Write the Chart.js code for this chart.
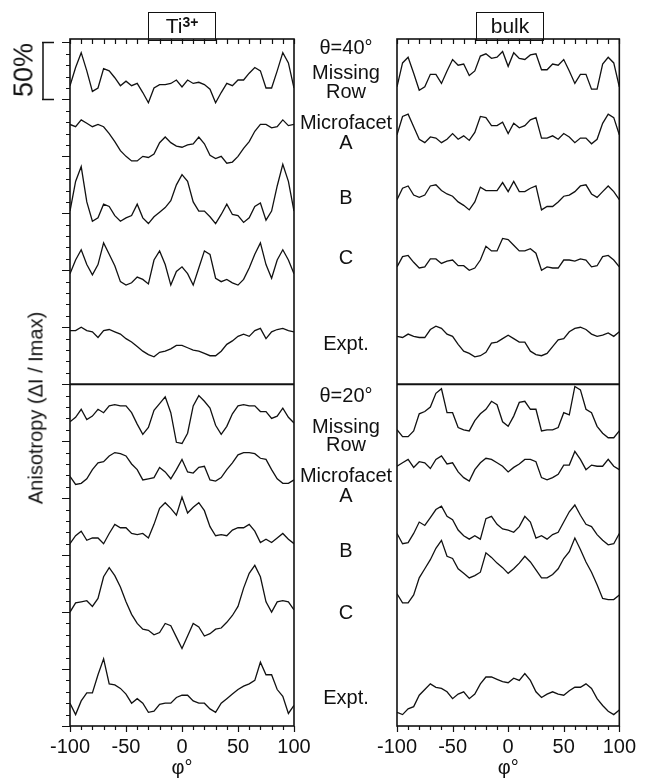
<!DOCTYPE html>
<html><head><meta charset="utf-8">
<script src="https://cdn.jsdelivr.net/npm/chart.js@4.4.1/dist/chart.umd.min.js"></script>
<style>
html,body{margin:0;padding:0;background:#fff;}
#wrap{position:relative;width:645px;height:780px;overflow:hidden;font-family:"Liberation Sans",Arial,sans-serif;color:#111;}
canvas{position:absolute;left:0;top:0;}
.lbl{position:absolute;font-size:20px;line-height:20px;white-space:nowrap;transform:translate(-50%,-50%);}
.box{position:absolute;border:1.5px solid #111;box-sizing:border-box;text-align:center;font-size:21px;line-height:25px;}
.rot{position:absolute;white-space:nowrap;transform:translate(-50%,-50%) rotate(-90deg);}
</style></head>
<body><div id="wrap">
<canvas id="cL" width="645" height="780"></canvas>
<canvas id="cR" width="645" height="780"></canvas>

<div class="box" style="left:148px;top:12px;width:68px;height:29px;">Ti<span style="font-size:14px;font-weight:bold;position:relative;top:-6px;">3+</span></div>
<div class="box" style="left:476px;top:12px;width:68px;height:29px;">bulk</div>

<div class="rot" style="left:24px;top:70px;font-size:27px;">50%</div>
<div class="rot" style="left:36px;top:408px;font-size:20px;">Anisotropy (ΔI / Imax)</div>

<div class="lbl" style="left:346px;top:47px;">θ=40°</div>
<div class="lbl" style="left:346px;top:72px;">Missing</div>
<div class="lbl" style="left:346px;top:91px;">Row</div>
<div class="lbl" style="left:346px;top:122px;">Microfacet</div>
<div class="lbl" style="left:346px;top:142px;">A</div>
<div class="lbl" style="left:346px;top:197px;">B</div>
<div class="lbl" style="left:346px;top:257px;">C</div>
<div class="lbl" style="left:346px;top:343px;">Expt.</div>
<div class="lbl" style="left:346px;top:395px;">θ=20°</div>
<div class="lbl" style="left:346px;top:426px;">Missing</div>
<div class="lbl" style="left:346px;top:444px;">Row</div>
<div class="lbl" style="left:346px;top:475px;">Microfacet</div>
<div class="lbl" style="left:346px;top:495px;">A</div>
<div class="lbl" style="left:346px;top:550px;">B</div>
<div class="lbl" style="left:346px;top:612px;">C</div>
<div class="lbl" style="left:346px;top:697px;">Expt.</div>
</div>
<script>
// azimuthal angle phi (degrees)
const phi = [-100,-95,-90,-85,-80,-75,-70,-65,-60,-55,-50,-45,-40,-35,-30,-25,-20,-15,-10,-5,0,5,10,15,20,25,30,35,40,45,50,55,60,65,70,75,80,85,90,95,100];

// Anisotropy (%) incl. vertical offsets — Ti3+ panel, theta = 40
const ti40_missingRow = [562,578,591,575,557,560,577,575,569,562,566,562,564,556,547,560,563,563,564,567,561,567,564,565,563,559,547,556,564,562,567,567,573,578,575,560,560,575,591,582,560];
const ti40_microfacetA = [528,526,532,529,526,528,526,520,513,505,500,496,496,500,499,502,512,517,512,509,508,510,511,517,511,501,498,500,494,495,500,507,513,522,528,528,525,526,532,527,528];
const ti40_B = [452,478,491,460,443,446,458,456,448,443,446,448,458,446,441,447,451,455,461,475,484,478,460,452,452,447,441,449,458,449,448,442,446,456,459,444,452,474,493,478,452];
const ti40_C = [397,409,418,405,396,405,424,414,404,390,387,389,394,392,388,409,417,405,387,399,403,397,387,402,417,414,393,390,392,389,387,392,402,414,424,405,393,409,418,409,397];
const ti40_expt = [347,347,350,347,346,341,347,348,346,344,340,337,333,329,326,324,328,329,331,334,334,332,330,329,327,325,325,329,335,338,342,344,342,347,349,340,346,348,349,347,346];
// Ti3+ panel, theta = 20
const ti20_missingRow = [267,271,278,269,272,278,275,281,282,281,281,275,265,256,262,277,283,289,275,249,248,257,281,290,285,279,264,256,263,274,281,282,281,281,276,276,270,272,279,271,266];
const ti20_microfacetA = [219,212,213,217,225,231,232,237,240,239,237,230,225,216,217,218,227,223,217,225,234,223,222,227,228,216,215,218,225,231,238,240,240,239,235,234,225,217,213,213,216];
const ti20_B = [160,167,171,163,165,165,160,169,177,174,174,169,168,169,165,177,191,196,191,185,201,187,192,196,189,175,167,168,167,172,174,174,177,171,161,164,161,165,169,164,160];
const ti20_C = [100,108,109,110,105,112,131,139,132,122,109,98,90,85,84,80,82,90,88,78,68,79,90,87,79,81,85,86,91,97,105,121,134,141,131,109,100,109,110,109,102];
const ti20_expt = [20,10,22,29,29,45,59,37,36,33,28,20,24,20,12,13,19,20,20,25,27,27,22,20,20,15,12,20,24,28,32,35,37,40,56,45,45,32,26,11,18];

// bulk panel, theta = 40
const bulk40_missingRow = [561,582,587,573,558,561,572,572,564,575,585,580,581,571,575,588,590,586,587,592,579,591,586,585,589,590,576,576,581,580,585,575,564,572,572,559,559,581,587,582,561];
const bulk40_microfacetA = [519,535,537,526,515,512,517,516,512,515,520,515,518,514,521,535,534,527,527,530,520,529,525,527,532,534,516,516,518,515,520,517,512,516,516,511,515,529,537,534,519];
const bulk40_B = [462,472,474,466,464,466,474,475,470,467,465,460,457,453,460,473,470,470,470,477,469,478,469,469,472,474,453,456,456,460,465,466,469,474,475,467,464,469,474,469,462];
const bulk40_C = [403,412,413,407,402,403,410,410,406,408,409,404,404,400,402,409,421,417,417,428,427,422,417,417,419,415,400,403,402,402,409,409,408,410,409,403,404,412,413,409,403];
const bulk40_expt = [342,341,344,342,341,341,348,351,349,344,342,335,329,327,324,325,328,336,337,340,343,340,337,337,329,326,325,327,333,339,340,346,349,350,348,344,342,343,345,342,346];
// bulk panel, theta = 20
const bulk20_missingRow = [260,254,254,259,274,276,280,292,296,275,275,262,260,259,268,274,278,285,282,267,263,272,284,285,278,278,259,260,260,262,275,273,298,295,278,275,263,257,253,253,259];
const bulk20_microfacetA = [228,231,234,227,232,231,226,234,237,230,231,223,218,215,225,231,235,234,231,228,223,227,230,234,234,232,218,216,218,221,229,229,241,234,225,229,228,228,234,228,225];
const bulk20_B = [169,160,161,169,179,176,183,190,193,184,181,172,167,164,167,164,182,184,177,173,172,170,175,184,179,165,167,164,168,170,179,188,194,185,177,175,168,163,159,160,169];
const bulk20_C = [116,108,108,115,130,138,146,156,163,149,147,138,134,130,132,135,152,148,143,139,134,138,143,149,144,137,130,130,133,138,147,153,165,155,144,135,124,112,111,111,115];
const bulk20_expt = [12,10,15,17,27,32,37,34,33,30,24,28,30,24,28,37,43,43,41,39,38,42,40,46,40,30,25,28,30,28,27,31,34,34,37,33,24,18,13,10,14];

const xTickValues = [-100,-90,-80,-70,-60,-50,-40,-30,-20,-10,0,10,20,30,40,50,60,70,80,90,100];
const yTickValues = [];
for (let v = 0; v <= 600; v += 10) yTickValues.push(v);
const dividerValue = 300;      // boundary between theta=40 and theta=20 blocks
const scaleBar = [550, 600];   // 50 % bar

const framePlugin = {
  id: 'frame',
  afterDatasetsDraw(chart, args, o) {
    const {ctx, chartArea: a, scales: {x, y}} = chart;
    ctx.save();
    ctx.strokeStyle = '#111';
    ctx.lineWidth = 1.2;
    ctx.beginPath();
    xTickValues.forEach(v => {
      const px = Math.round(x.getPixelForValue(v)) + 0.5;
      ctx.moveTo(px, a.top); ctx.lineTo(px, a.top + 5);
      ctx.moveTo(px, a.bottom); ctx.lineTo(px, a.bottom + (v % 50 === 0 ? 6 : 4));
    });
    if (o.yTicks) {
      yTickValues.forEach(v => {
        const py = Math.round(y.getPixelForValue(v)) + 0.5;
        const len = v % 50 === 0 ? 8 : 4;
        ctx.moveTo(a.left - len, py); ctx.lineTo(a.left, py);
      });
    }
    ctx.stroke();
    ctx.lineWidth = 1.6;
    ctx.strokeRect(a.left, a.top, a.right - a.left, a.bottom - a.top);
    ctx.lineWidth = 2;
    const yd = y.getPixelForValue(dividerValue);
    ctx.beginPath(); ctx.moveTo(a.left, yd); ctx.lineTo(a.right, yd); ctx.stroke();
    if (o.scaleBar) {
      const y1 = y.getPixelForValue(scaleBar[0]), y2 = y.getPixelForValue(scaleBar[1]);
      ctx.lineWidth = 1.5;
      ctx.beginPath();
      ctx.moveTo(43, y1); ctx.lineTo(43, y2);
      ctx.moveTo(42, y1); ctx.lineTo(54, y1);
      ctx.moveTo(42, y2); ctx.lineTo(54, y2);
      ctx.stroke();
    }
    ctx.restore();
  }
};

function makeChart(id, series, padL, padR, frameOpts) {
  return new Chart(document.getElementById(id), {
    type: 'line',
    data: {
      datasets: series.map(arr => ({
        data: arr.map((v, i) => ({x: phi[i], y: v})),
        borderColor: '#111', borderWidth: 1.3, pointRadius: 0, tension: 0, fill: false
      }))
    },
    options: {
      responsive: false, animation: false, devicePixelRatio: 1,
      layout: {padding: {left: padL, right: padR, top: 39, bottom: 0}},
      plugins: {legend: {display: false}, tooltip: {enabled: false}, frame: frameOpts},
      scales: {
        x: {
          type: 'linear', min: -100, max: 100,
          grid: {display: false, drawTicks: false}, border: {display: false},
          ticks: {stepSize: 50, padding: 9, color: '#111', maxRotation: 0, autoSkip: false,
                  font: {family: 'Liberation Sans', size: 20}},
          title: {display: true, text: 'φ°', color: '#111', padding: {top: 0, bottom: 0},
                  font: {family: 'Liberation Sans', size: 20}},
          afterFit: s => { s.height = 54; }
        },
        y: {display: false, min: 0, max: 603}
      }
    },
    plugins: [framePlugin]
  });
}

makeChart('cL', [ti40_missingRow, ti40_microfacetA, ti40_B, ti40_C, ti40_expt,
                 ti20_missingRow, ti20_microfacetA, ti20_B, ti20_C, ti20_expt],
          70, 351, {yTicks: true, scaleBar: true});
makeChart('cR', [bulk40_missingRow, bulk40_microfacetA, bulk40_B, bulk40_C, bulk40_expt,
                 bulk20_missingRow, bulk20_microfacetA, bulk20_B, bulk20_C, bulk20_expt],
          397, 24, {yTicks: false, scaleBar: false});
</script>
</body></html>
